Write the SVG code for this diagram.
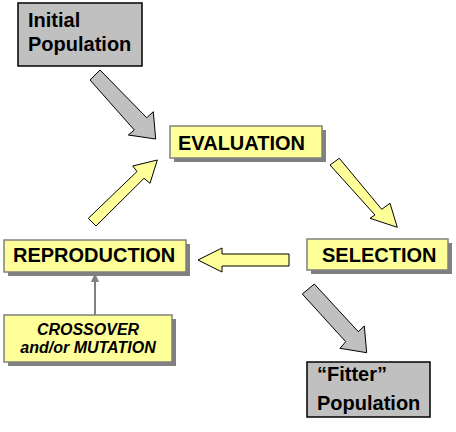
<svg xmlns="http://www.w3.org/2000/svg" width="456" height="432" viewBox="0 0 456 432">
<style>
.gbox{fill:#c0c0c0;stroke:#000;stroke-width:1.5}
.ybox{fill:#ffff99;stroke:#808080;stroke-width:1.5}
.shadow{fill:#808080}
.t{font-family:"Liberation Sans",Arial,sans-serif;font-weight:bold;font-size:20px;fill:#000}
.ti{font-family:"Liberation Sans",Arial,sans-serif;font-weight:bold;font-style:italic;font-size:16px;fill:#000}
.ga{fill:#c0c0c0;stroke:#000;stroke-width:1;stroke-linejoin:miter}
.ya{fill:#ffff99;stroke:#000;stroke-width:1;stroke-linejoin:miter}
</style>
<rect width="456" height="432" fill="#fff"/>
<g id="connectors">
<polygon class="ga" points="90,80 100,70 146.7,117.7 153.3,111.7 155.7,139 128.3,135 134.3,130"/>
<polygon class="ya" points="330,165 339.3,158.3 381.7,209.3 390,203.3 397.3,227.3 370,218.3 375,215"/>
<polygon class="ga" points="302.3,294 314.3,284 358.3,331.7 364.3,326 366.7,352.7 340,348.3 345.7,341.7"/>
<polygon class="ya" points="289,254 289,266 222,266 222,272 198,260 222,248 222,254"/>
<polygon class="ya" points="88.3,218.3 96,226 144,178.3 150,183.3 157.3,160 132.7,166 137,171.5"/>
<line x1="95" y1="315" x2="95" y2="281" stroke="#808080" stroke-width="2"/>
<polygon points="95,273 99,282 91,282" fill="#808080"/>
</g>
<g id="initial-population">
<rect class="gbox" x="18" y="3" width="124" height="63"/>
<text class="t" x="28" y="27">Initial</text>
<text class="t" x="28" y="51">Population</text>
</g>
<g id="evaluation">
<rect class="shadow" x="174" y="130" width="152" height="32"/>
<rect class="ybox" x="170" y="126" width="152" height="32"/>
<text class="t" x="178" y="150">EVALUATION</text>
</g>
<g id="selection">
<rect class="shadow" x="311" y="243" width="141" height="31"/>
<rect class="ybox" x="307" y="239" width="141" height="31"/>
<text class="t" x="322" y="262">SELECTION</text>
</g>
<g id="reproduction">
<rect class="shadow" x="8" y="244" width="182" height="32"/>
<rect class="ybox" x="4" y="240" width="182" height="32"/>
<text class="t" x="13" y="262">REPRODUCTION</text>
</g>
<g id="crossover-mutation">
<rect class="shadow" x="8" y="319" width="168" height="47"/>
<rect class="ybox" x="4" y="315" width="168" height="47"/>
<text class="ti" x="88" y="335" text-anchor="middle">CROSSOVER</text>
<text class="ti" x="88" y="353" text-anchor="middle">and/or MUTATION</text>
</g>
<g id="fitter-population">
<rect class="gbox" x="307" y="362" width="123" height="55"/>
<text class="t" x="317" y="381">“Fitter”</text>
<text class="t" x="317" y="410">Population</text>
</g>
</svg>
